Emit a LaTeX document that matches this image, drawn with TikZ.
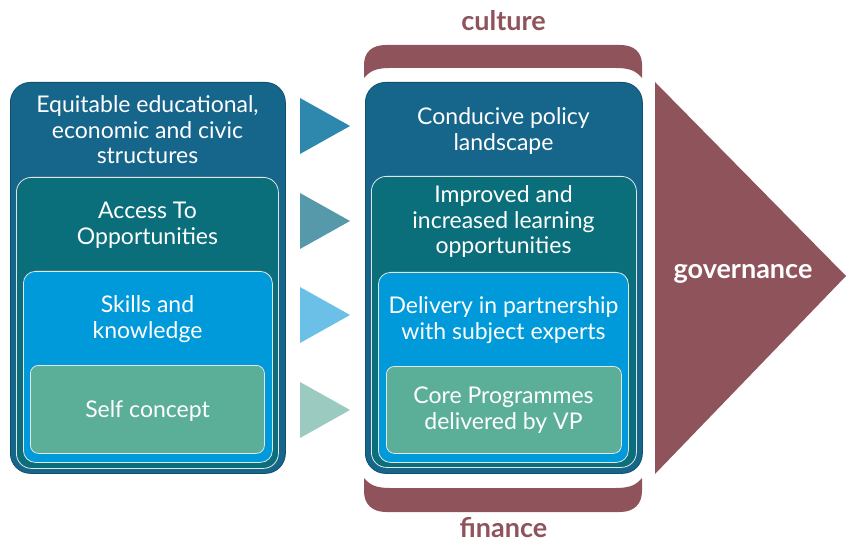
\documentclass[tikz,border=0pt]{standalone}
\usepackage{fontspec}
\setmainfont{Lato}
\definecolor{layerA}{HTML}{16658A}
\definecolor{layerB}{HTML}{0B6F7B}
\definecolor{layerC}{HTML}{0099DA}
\definecolor{layerD}{HTML}{5BAF99}
\definecolor{triA}{HTML}{2E87AD}
\definecolor{triB}{HTML}{5599AA}
\definecolor{triC}{HTML}{6BC0E8}
\definecolor{triD}{HTML}{9BCAC0}
\definecolor{maroon}{HTML}{8F535C}
\begin{document}
\begin{tikzpicture}[x=1pt, y=-1pt,
    lay/.style ={anchor=north west, inner sep=0pt, draw=white!80!gray, line width=0.8pt},
    outer/.style={lay, fill=layerA, draw=layerA!80!black, rounded corners=20pt},
    txt/.style ={text=white, align=center, font=\fontsize{23}{25.5}\selectfont},
    band/.style={fill=maroon},
    lbl/.style ={text=maroon, font=\fontsize{27}{30}\selectfont\bfseries},
  ]
  \useasboundingbox (0,0) rectangle (846,545);

  % left stack
  \node[outer, minimum width=275pt, minimum height=391pt] (lo) at (10,82) {};
  \node[lay, fill=layerB, rounded corners=15pt, minimum width=262pt, minimum height=291pt] (la) at (16,177) {};
  \node[lay, fill=layerC, rounded corners=12pt, minimum width=249pt, minimum height=191pt] (ls) at (23,271) {};
  \node[lay, fill=layerD, rounded corners=8pt, minimum width=234pt, minimum height=88pt] (lc) at (30,365) {};
  \node[txt] (lot) at (147.5,130) {Equitable educational,\\economic and civic\\structures};
  \node[txt] (lat) at (147.5,225) {Access To\\Opportunities};
  \node[txt] (lst) at (147.5,319) {Skills and\\knowledge};
  \node[txt] (lct) at (147.5,411) {Self concept};

  % arrow heads between the stacks
  \foreach \yc/\col in {126/triA, 221/triB, 315/triC, 410/triD}{
    \fill[\col] (300,\yc-28) -- (350,\yc) -- (300,\yc+28) -- cycle;
  }

  % right stack
  \node[outer, minimum width=277pt, minimum height=391pt] (ro) at (365,82) {};
  \node[lay, fill=layerB, rounded corners=15pt, minimum width=265pt, minimum height=291pt] (ri) at (371,176) {};
  \node[lay, fill=layerC, rounded corners=12pt, minimum width=250pt, minimum height=190pt] (rd) at (378,272) {};
  \node[lay, fill=layerD, rounded corners=8pt, minimum width=235pt, minimum height=87pt] (rc) at (386,366) {};
  \node[txt] (rot) at (503.5,131) {Conducive policy\\landscape};
  \node[txt] (rit) at (503.5,222) {Improved and\\increased learning\\opportunities};
  \node[txt] (rdt) at (503.5,320) {Delivery in partnership\\with subject experts};
  \node[txt] (rct) at (503.5,410) {Core Programmes\\delivered by VP};

  % culture / finance bands
  \fill[band] (364,78) -- (364,65) .. controls (364,52) and (372,45) .. (386,45) -- (620,45)
    .. controls (634,45) and (642,52) .. (642,65) -- (642,78)
    .. controls (636,71) and (630,68) .. (616,68) -- (390,68)
    .. controls (376,68) and (370,71) .. (364,78) -- cycle;
  \fill[band] (364,478) -- (364,491) .. controls (364,504) and (372,512) .. (386,512) -- (620,512)
    .. controls (634,512) and (642,504) .. (642,491) -- (642,478)
    .. controls (636,485) and (630,488) .. (616,488) -- (390,488)
    .. controls (376,488) and (370,485) .. (364,478) -- cycle;
  \node[lbl] (cul) at (503.5,21) {culture};
  \node[lbl] (fin) at (503.5,528) {finance};

  % governance arrow
  \fill[band] (655,82) -- (846,276) -- (655,474) -- cycle;
  \node[lbl, text=white] (gov) at (743,274) {governance};
\end{tikzpicture}
\end{document}
